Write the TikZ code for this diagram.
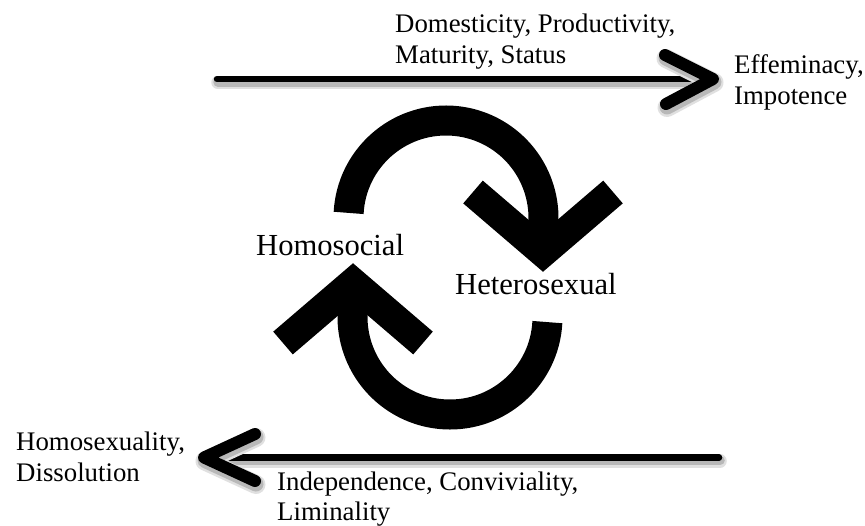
\documentclass[tikz,border=0pt]{standalone}
\usepackage{fontspec}
\setmainfont{Liberation Serif}
\newcommand\cyclehalf{%
  \draw[band] ([shift={(183:97.5)}]446,218) arc[start angle=183, end angle=374, radius=97.5];
  \draw[chev] (473,192) -- (543,252) -- (613,192);
}
\begin{document}
\begin{tikzpicture}[x=1pt,y=-1pt,
  small/.style={font=\fontsize{26.8}{31}\selectfont, anchor=base west, inner sep=0pt},
  big/.style={font=\fontsize{30.6}{36}\selectfont, anchor=base west, inner sep=0pt},
  softshadow/.style={
    preaction={draw=black!12, line width=#1+7pt, line cap=round, line join=round, transform canvas={shift={(1pt,-3.5pt)}}},
    preaction={draw=black!28, line width=#1+3pt, line cap=round, line join=round, transform canvas={shift={(1pt,-3pt)}}}},
  shaft/.style={softshadow=6.5pt, line width=6.5pt, line cap=round},
  headline/.style={softshadow=12pt, line width=12pt, line cap=round, line join=round},
  band/.style={line width=30pt, line cap=butt},
  chev/.style={line width=30pt, line join=miter, line cap=butt}]
\fill[white] (0,0) rectangle (865,525);
\useasboundingbox (0,0) rectangle (865,525);

% top arrow
\coordinate (tL) at (217,79);
\coordinate (tR) at (713,79);
\coordinate (tA1) at (665,55);
\coordinate (tA2) at (666,104);
\draw[shaft] (tL) -- (tR);
\draw[headline] (tA1) -- (tR) -- (tA2);

% bottom arrow
\coordinate (bR) at (719,457.5);
\coordinate (bL) at (204,457.5);
\coordinate (bA1) at (255,434);
\coordinate (bA2) at (255,481);
\draw[shaft] (bR) -- (bL);
\draw[headline] (bA1) -- (bL) -- (bA2);

% cycle
\cyclehalf
\begin{scope}[rotate around={180:(448,267.5)}]
\cyclehalf
\end{scope}

% labels
\node[small] (dom) at (395,32) {Domesticity, Productivity,};
\node[small] (mat) at (395,63) {Maturity, Status};
\node[small] (eff) at (734,73) {Effeminacy,};
\node[small] (imp) at (734,104) {Impotence};
\node[big] (hs) at (256,255) {Homosocial};
\node[big] (ht) at (455,294) {Heterosexual};
\node[small] (hx) at (16,450) {Homosexuality,};
\node[small] (dis) at (16,481) {Dissolution};
\node[small] (ind) at (277,490) {Independence, Conviviality,};
\node[small] (lim) at (277,520) {Liminality};
\end{tikzpicture}
\end{document}
